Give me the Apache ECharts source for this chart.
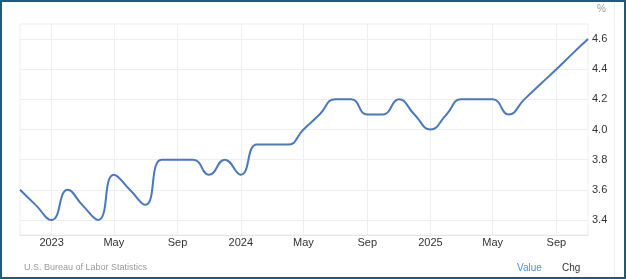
<!DOCTYPE html>
<html>
<head>
<meta charset="utf-8">
<script src="https://cdn.jsdelivr.net/npm/echarts@6/dist/echarts.min.js"></script>
<style>
  html, body { margin: 0; padding: 0; background: #fff; }
  #wrap { position: relative; width: 626px; height: 279px; overflow: hidden; }
  #chart { position: absolute; left: 0; top: 0; width: 626px; height: 279px; }
  #frame { position: absolute; left: 0; top: 0; width: 626px; height: 279px; box-sizing: border-box; border: 2px solid #1d5b7a; pointer-events: none; }
</style>
</head>
<body>
<div id="wrap"><div id="chart"></div><div id="frame"></div></div>
<script>
// Monthly observations (month, value in %)
const months = [
  '2022-11','2022-12',
  '2023-01','2023-02','2023-03','2023-04','2023-05','2023-06','2023-07','2023-08','2023-09','2023-10','2023-11','2023-12',
  '2024-01','2024-02','2024-03','2024-04','2024-05','2024-06','2024-07','2024-08','2024-09','2024-10','2024-11','2024-12',
  '2025-01','2025-02','2025-03','2025-04','2025-05','2025-06','2025-07','2025-08','2025-09','2025-10','2025-11'
];
const values = [
  3.6, 3.5,
  3.4, 3.6, 3.5, 3.4, 3.7, 3.6, 3.5, 3.8, 3.8, 3.8, 3.7, 3.8,
  3.7, 3.9, 3.9, 3.9, 4.0, 4.1, 4.2, 4.2, 4.1, 4.1, 4.2, 4.1,
  4.0, 4.1, 4.2, 4.2, 4.2, 4.1, 4.2, 4.3, 4.4, 4.5, 4.6
];
// X-axis tick labels
const xTickMonths = ['2023-01','2023-05','2023-09','2024-01','2024-05','2024-09','2025-01','2025-05','2025-09'];
const xTickLabels = ['2023','May','Sep','2024','May','Sep','2025','May','Sep'];
// Y-axis tick labels
const yTicks = [3.4, 3.6, 3.8, 4.0, 4.2, 4.4, 4.6];
const sourceText = 'U.S. Bureau of Labor Statistics';

function ts(m) { const p = m.split('-'); return Date.UTC(+p[0], +p[1] - 1, 1); }

const xTickValues = xTickMonths.map(ts);
const seriesData = months.map((m, i) => [ts(m), values[i]]);
const FONT = 'Liberation Sans, Arial, sans-serif';
const gridColor = '#eeeeee';

const chart = echarts.init(document.getElementById('chart'), null, { renderer: 'canvas' });
chart.setOption({
  animation: false,
  backgroundColor: '#ffffff',
  grid: { left: 20, top: 24, right: 38, bottom: 44, show: true, borderColor: gridColor, borderWidth: 1, backgroundColor: 'transparent' },
  xAxis: {
    type: 'value',
    min: ts(months[0]),
    max: ts(months[months.length - 1]),
    axisLine: { show: true, lineStyle: { color: '#e6e6e6' } },
    axisTick: { show: false, customValues: xTickValues },
    splitLine: { show: true, lineStyle: { color: gridColor, width: 1 } },
    axisLabel: {
      customValues: xTickValues,
      color: '#333333', fontSize: 11, fontFamily: FONT, margin: 2,
      formatter: function (v) { const i = xTickValues.indexOf(v); return i >= 0 ? xTickLabels[i] : ''; }
    }
  },
  yAxis: {
    type: 'value',
    position: 'right',
    min: 3.3, max: 4.7,
    axisLine: { show: false },
    axisTick: { show: false, customValues: yTicks },
    splitLine: { show: true, lineStyle: { color: gridColor, width: 1 } },
    axisLabel: {
      customValues: yTicks,
      color: '#333333', fontSize: 11, fontFamily: FONT, margin: 4,
      formatter: function (v) { return v.toFixed(1); }
    }
  },
  graphic: [
    { type: 'line', shape: { x1: 614.5, y1: 2, x2: 614.5, y2: 277 }, style: { stroke: '#eeeeee', lineWidth: 1 }, silent: true },
    { type: 'text', left: 597, top: 4, style: { text: '%', fill: '#999999', font: '10px ' + FONT } },
    { type: 'text', left: 24, top: 263, style: { text: sourceText, fill: '#999999', font: '9px ' + FONT } },
    { type: 'text', left: 517, top: 263, style: { text: 'Value', fill: '#4a90e2', font: '10px ' + FONT } },
    { type: 'text', left: 562, top: 263, style: { text: 'Chg', fill: '#333333', font: '10px ' + FONT } }
  ],
  series: [{
    type: 'line',
    data: seriesData,
    smooth: 0.5,
    symbol: 'none',
    clip: true,
    lineStyle: { color: '#4a78bd', width: 2 }
  }]
});
</script>
</body>
</html>
